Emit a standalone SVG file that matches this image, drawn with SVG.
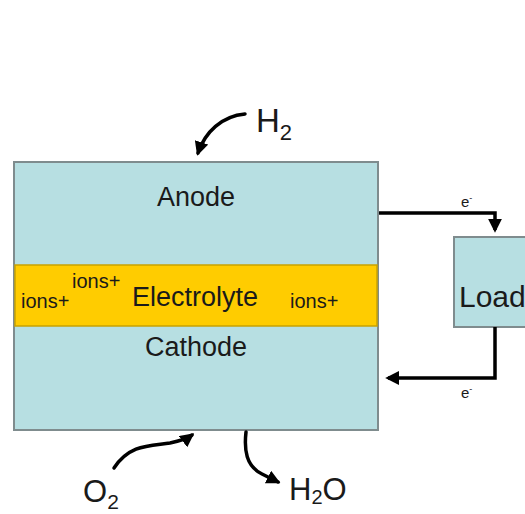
<svg xmlns="http://www.w3.org/2000/svg" width="525" height="514" viewBox="0 0 525 514">
<style>
.t{font-family:"Liberation Sans",Arial,sans-serif;fill:#1a1a1a}
.box{fill:#b7dfe2;stroke:#7f8c8e;stroke-width:2}
.wire{fill:none;stroke:#000;stroke-width:3.5}
.curve{fill:none;stroke:#000;stroke-width:3.5;stroke-linecap:round}
</style>
<defs>
<marker id="ah" viewBox="0 0 10 10" refX="8" refY="5" markerWidth="4" markerHeight="4" orient="auto" markerUnits="strokeWidth">
<path d="M0,0 L10,5 L0,10 z" fill="#000"/>
</marker>
</defs>
<rect width="525" height="514" fill="#fff"/>
<g id="cell">
<rect class="box" x="14" y="162" width="364" height="268"/>
</g>
<g id="electrolyte">
<rect x="15" y="265" width="362" height="61" fill="#ffcc00" stroke="#c9a200" stroke-width="1.5"/>
<text class="t" x="195" y="306" font-size="27" text-anchor="middle">Electrolyte</text>
<text class="t" x="21" y="308" font-size="20">ions+</text>
<text class="t" x="72" y="288" font-size="20">ions+</text>
<text class="t" x="290" y="308" font-size="20">ions+</text>
</g>
<g id="anode">
<text class="t" x="196" y="206" font-size="27" text-anchor="middle">Anode</text>
</g>
<g id="cathode">
<text class="t" x="196" y="356" font-size="27" text-anchor="middle">Cathode</text>
</g>
<g id="load">
<rect class="box" x="454" y="237" width="90" height="90"/>
<text class="t" x="459" y="307" font-size="30">Load</text>
</g>
<g id="connectors">
<path class="wire" d="M379,213 H495 V230" marker-end="url(#ah)"/>
<path class="wire" d="M495,327 V378 H388" marker-end="url(#ah)"/>
<path class="curve" d="M245,114 C222,116 205,132 198,153" marker-end="url(#ah)"/>
<path class="curve" d="M114,468 C130,444 150,446 170,443 C180,441 188,438 192,435" marker-end="url(#ah)"/>
<path class="curve" d="M246,432 C244,450 246,466 262,474 C268,477 274,480 278,482" marker-end="url(#ah)"/>
</g>
<g id="labels">
<text class="t" x="461" y="207" font-size="15">e<tspan font-size="9" dy="-6">-</tspan></text>
<text class="t" x="461" y="398" font-size="15">e<tspan font-size="9" dy="-6">-</tspan></text>
<text class="t" x="256" y="132" font-size="33">H<tspan font-size="22" dy="8">2</tspan></text>
<text class="t" x="83" y="502" font-size="31">O<tspan font-size="21" dy="7">2</tspan></text>
<text class="t" x="289" y="500" font-size="31">H<tspan font-size="20" dy="4">2</tspan><tspan dy="-4">O</tspan></text>
</g>
</svg>
